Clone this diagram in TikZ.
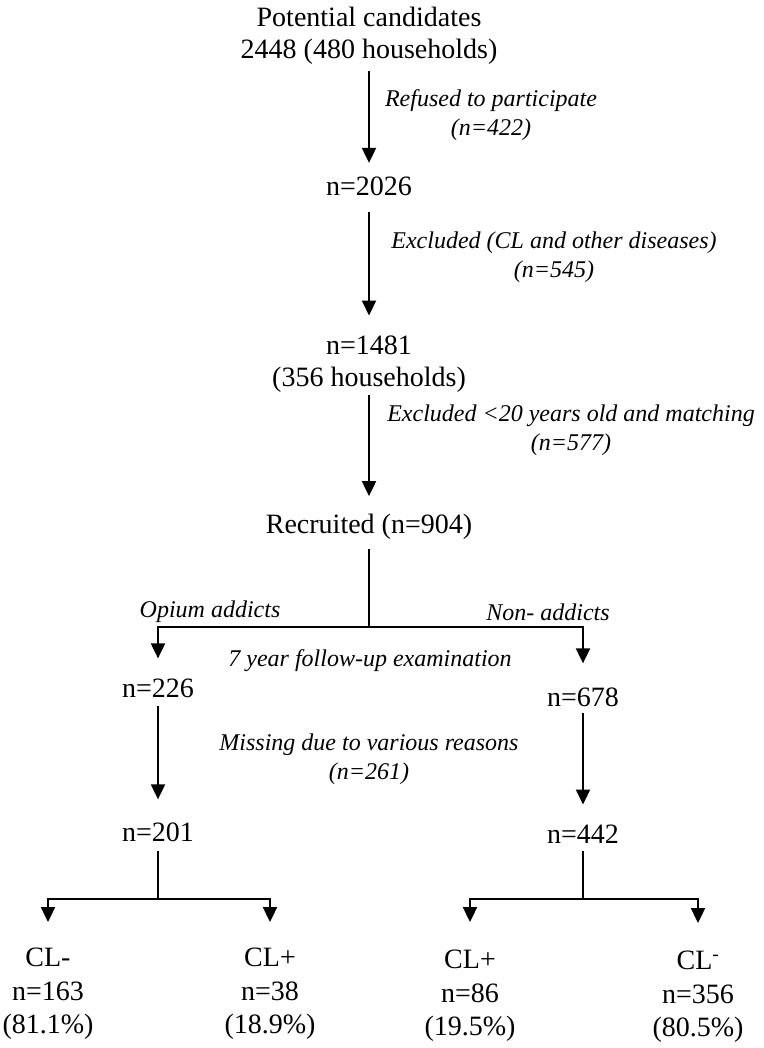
\documentclass[tikz,border=0pt]{standalone}
\usepackage{fontspec}
\setmainfont{Liberation Serif}
\usetikzlibrary{arrows.meta}
\begin{document}
\begin{tikzpicture}[x=1pt,y=1pt]
        \tikzstyle{txt} = [inner sep=0pt, align=center, font=\fontsize{28}{32}\selectfont]
        \tikzstyle{res} = [txt, font=\fontsize{28}{33.5}\selectfont]
        \tikzstyle{lbl} = [inner sep=0pt, align=center, font=\fontsize{24}{29}\selectfont\itshape]
        \tikzstyle{link} = [line width=2pt]
        \tikzstyle{arrow} = [link,->,>={Triangle[width=14pt,length=15pt]}]

                \useasboundingbox (0,0) rectangle (763,-1048);

                \node (pot) [txt] at (369,-36) {Potential candidates\\2448 (480 households)};
                \node (n2026) [txt] at (369,-186) {n=2026};
                \node (n1481) [txt] at (369,-364) {n=1481\\(356 households)};
                \node (recruited) [txt] at (369,-527) {Recruited (n=904)};

                \node (refused) [lbl] at (491,-115) {Refused to participate\\(n=422)};
                \node (exclcl) [lbl] at (554,-257) {Excluded (CL and other diseases)\\(n=545)};
                \node (exclage) [lbl] at (571,-430) {Excluded <20 years old and matching\\(n=577)};

                \coordinate (split) at (369,-627);
                \node (opium) [lbl] at (210,-612) {Opium addicts};
                \node (nonadd) [lbl] at (548,-612) {Non- addicts};
                \node (follow) [lbl] at (370,-661) {7 year follow-up examination};

                \node (n226) [txt] at (158,-688) {n=226};
                \node (n678) [txt] at (583,-697) {n=678};
                \node (missing) [lbl] at (369,-759) {Missing due to various reasons\\(n=261)};
                \node (n201) [txt] at (158,-832) {n=201};
                \node (n442) [txt] at (583,-834) {n=442};

                \coordinate (splitl) at (158,-899);
                \coordinate (splitr) at (583,-899);
                \node (clneg1) [res] at (48,-994) {CL-\\n=163\\(81.1\%)};
                \node (clpos1) [res] at (270,-994) {CL+\\n=38\\(18.9\%)};
                \node (clpos2) [res] at (470,-996) {CL+\\n=86\\(19.5\%)};
                \node (clneg2) [res] at (698,-997) {CL\textsuperscript{-}\\n=356\\(80.5\%)};

                \draw[arrow, shorten <=6pt, shorten >=13.5pt] (pot) -- (n2026);
                \draw[arrow, shorten <=16pt, shorten >=20pt] (n2026) -- (n1481);
                \draw[arrow, shorten <=3pt, shorten >=18pt] (n1481) -- (recruited);
                \draw[link, shorten <=9pt] (recruited) -- (split);
                \draw[arrow, shorten >=20pt] (split) -| (n226);
                \draw[arrow, shorten >=24pt] (split) -| (n678);
                \draw[arrow, shorten <=8pt, shorten >=23pt] (n226) -- (n201);
                \draw[arrow, shorten <=6pt, shorten >=20pt] (n678) -- (n442);
                \draw[link, shorten <=9pt] (n201) -- (splitl);
                \draw[arrow, shorten >=26pt] (splitl) -| (clneg1);
                \draw[arrow, shorten >=26pt] (splitl) -| (clpos1);
                \draw[link, shorten <=8pt] (n442) -- (splitr);
                \draw[arrow, shorten >=28pt] (splitr) -| (clpos2);
                \draw[arrow, shorten >=28pt] (splitr) -| (clneg2);

    \end{tikzpicture}
\end{document}
